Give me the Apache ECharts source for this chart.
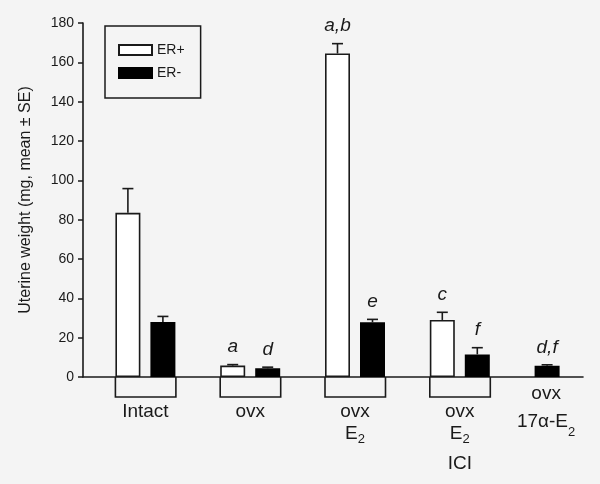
<!DOCTYPE html>
<html><head><meta charset="utf-8">
<script src="https://cdn.jsdelivr.net/npm/echarts@6/dist/echarts.min.js"></script>
<style>html,body{margin:0;padding:0;background:#f4f4f4}#c{width:600px;height:484px}</style>
</head><body><div id="c"></div>
<script>
// ---- data ----
const categories = ['Intact', 'ovx', 'ovx\nE2', 'ovx\nE2\nICI', 'ovx\n17α-E2'];
const erPos   = [83.5, 5.8, 164.5, 29.0, null];
const erPosSE = [12.3, 0.5, 5.0, 3.9, null];
const erNeg   = [28.0, 4.4, 27.8, 11.5, 5.7];
const erNegSE = [2.8, 0.6, 1.5, 3.4, 0.5];
const lettersPos = ['', 'a', 'a,b', 'c', ''];
const lettersNeg = ['', 'd', 'e', 'f', 'd,f'];
const hasBracket = [true, true, true, true, false];
const yMin = 0, yMax = 180, yStep = 20;
const yTitle = 'Uterine weight (mg, mean ± SE)';
const seriesNames = ['ER+', 'ER-'];

// ---- style ----
const FONT = '"Liberation Sans", Arial, sans-serif';
const INK = '#1a1a1a';
const SLOT = 17.5;

// ER- value drawn in the first slot when there is no ER+ bar for that group
const posData = categories.map((_, i) => erPos[i] != null ? erPos[i]
  : (erNeg[i] != null ? { value: erNeg[i], itemStyle: { color: '#000', borderColor: '#000' } } : null));
const negData = categories.map((_, i) => erPos[i] != null ? erNeg[i] : null);

const errItems = [];
categories.forEach((_, i) => {
  if (erPos[i] != null) {
    errItems.push({ i, slot: 0, mean: erPos[i], se: erPosSE[i], letter: lettersPos[i] });
    if (erNeg[i] != null) errItems.push({ i, slot: 1, mean: erNeg[i], se: erNegSE[i], letter: lettersNeg[i] });
  } else if (erNeg[i] != null) {
    errItems.push({ i, slot: 0, mean: erNeg[i], se: erNegSE[i], letter: lettersNeg[i] });
  }
});
const bracketIdx = categories.map((_, i) => i).filter(i => hasBracket[i]);

function renderErr(params, api) {
  const d = errItems[params.dataIndex];
  const off = d.slot === 0 ? -SLOT : SLOT;
  const base = api.coord([d.i, d.mean]);
  const top = api.coord([d.i, d.mean + d.se]);
  const x = base[0] + off;
  const ch = [
    { type: 'line', shape: { x1: x, y1: base[1], x2: x, y2: top[1] }, style: { stroke: INK, lineWidth: 1.6 } },
    { type: 'line', shape: { x1: x - 5.5, y1: top[1], x2: x + 5.5, y2: top[1] }, style: { stroke: INK, lineWidth: 1.6 } }
  ];
  if (d.letter) ch.push({ type: 'text', x: x, y: top[1] - 8,
    style: { text: d.letter, fill: INK, fontSize: 19, fontStyle: 'italic', fontFamily: FONT, align: 'center', verticalAlign: 'bottom' } });
  return { type: 'group', children: ch };
}
function renderBracket(params, api) {
  const i = bracketIdx[params.dataIndex];
  const p = api.coord([i, 0]);
  const x0 = p[0] - SLOT - 12.5, x1 = p[0] + SLOT + 13, y0 = p[1], y1 = p[1] + 20;
  return { type: 'polyline', shape: { points: [[x0, y0], [x0, y1], [x1, y1], [x1, y0]] },
    style: { stroke: INK, lineWidth: 1.6, fill: null } };
}

function labelFmt(value, idx) {
  const lines = value.split('\n');
  const single = !hasBracket[idx];
  const out = [];
  if (!single) out.push('{sp| }');
  lines.forEach((ln, k) => {
    const m = ln.match(/^(.*)E2$/);
    let s;
    if (m) s = single ? `{e17|${m[1]}E}{s17|2}` : `{e|${m[1]}E}{s|2}`;
    else if (k >= 2 && k === lines.length - 1) s = `{last|${ln}}`;
    else s = `{t|${ln}}`;
    if (single) s += '{w| }';
    out.push(s);
  });
  return out.join('\n');
}
const base = { fontFamily: FONT, color: INK, fontSize: 19 };
const rich = {
  t: Object.assign({ lineHeight: 22 }, base),
  e: Object.assign({ lineHeight: 23 }, base),
  s: Object.assign({}, base, { fontSize: 13, lineHeight: 7, verticalAlign: 'bottom' }),
  last: Object.assign({ lineHeight: 36 }, base),
  e17: Object.assign({ lineHeight: 34 }, base),
  s17: Object.assign({}, base, { fontSize: 13, lineHeight: 18, verticalAlign: 'bottom' }),
  sp: { fontSize: 10, lineHeight: 18 },
  w: { fontSize: 10, lineHeight: 1, width: 37 }
};

const chart = echarts.init(document.getElementById('c'), null, { renderer: 'canvas' });
chart.setOption({
  backgroundColor: '#f4f4f4',
  animation: false,
  grid: [
    { left: 83, top: 23, width: 500, height: 354, containLabel: false, outerBoundsMode: 'none' },
    { left: 93, top: 23, width: 524, height: 354, containLabel: false, outerBoundsMode: 'none' }
  ],
  legend: {
    data: seriesNames, orient: 'vertical', left: 105, top: 26,
    padding: [17, 16, 18, 13], itemWidth: 33, itemHeight: 10, itemGap: 9,
    borderColor: INK, borderWidth: 1.5, borderRadius: 0,
    textStyle: { fontSize: 14, color: INK, fontFamily: FONT, lineHeight: 10 },
    icon: 'rect'
  },
  xAxis: [
    { type: 'value', gridIndex: 0, min: 0, max: 1, axisLine: { show: true, lineStyle: { color: INK, width: 1.6 } },
      axisTick: { show: false }, axisLabel: { show: false }, splitLine: { show: false } },
    { type: 'category', gridIndex: 1, data: categories, axisLine: { show: false }, axisTick: { show: false },
      splitLine: { show: false },
      axisLabel: { interval: 0, margin: 5.5, formatter: labelFmt, rich: rich, color: INK, hideOverlap: false } }
  ],
  yAxis: [
    { type: 'value', gridIndex: 0, min: yMin, max: yMax, interval: yStep,
      axisLine: { show: true, lineStyle: { color: INK, width: 1.6 } },
      axisTick: { show: true, inside: false, length: 5, lineStyle: { color: INK, width: 1.5 } },
      axisLabel: { fontSize: 14, color: INK, fontFamily: FONT, margin: 9 },
      splitLine: { show: false },
      name: yTitle, nameLocation: 'middle', nameGap: 49,
      nameTextStyle: { fontSize: 16, color: INK, fontFamily: FONT } },
    { type: 'value', gridIndex: 1, min: yMin, max: yMax, show: false, splitLine: { show: false } }
  ],
  series: [
    { name: seriesNames[0], type: 'bar', xAxisIndex: 1, yAxisIndex: 1, data: posData,
      barWidth: 25, barGap: '40%',
      itemStyle: { color: '#ffffff', borderColor: INK, borderWidth: 1.6 } },
    { name: seriesNames[1], type: 'bar', xAxisIndex: 1, yAxisIndex: 1, data: negData,
      barWidth: 25, barGap: '40%',
      itemStyle: { color: '#000000', borderColor: '#000000', borderWidth: 1.6 } },
    { name: 'err', type: 'custom', xAxisIndex: 1, yAxisIndex: 1, z: 5,
      data: errItems.map(d => [d.i, d.mean + d.se]), renderItem: renderErr, clip: false, silent: true },
    { name: 'brackets', type: 'custom', xAxisIndex: 1, yAxisIndex: 1, z: 5,
      data: bracketIdx.map(i => [i, 0]), renderItem: renderBracket, clip: false, silent: true }
  ]
});
</script>
</body></html>
